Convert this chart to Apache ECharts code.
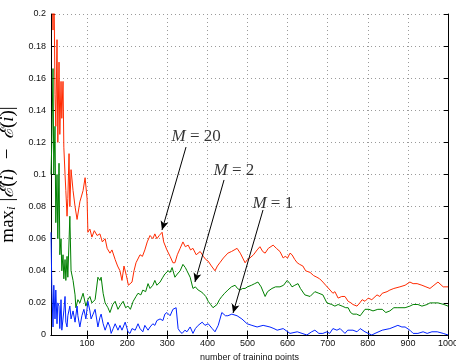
<!DOCTYPE html>
<html>
<head>
<meta charset="utf-8">
<script src="https://cdn.jsdelivr.net/npm/echarts@6/dist/echarts.min.js"></script>
<style>
html, body { margin: 0; padding: 0; background: #fff; }
#chart { width: 456px; height: 360px; }
</style>
</head>
<body>
<div id="chart"></div>
<script>
// tick values for the x axis (axis itself starts at 10)
var xTicks = [100, 200, 300, 400, 500, 600, 700, 800, 900, 1000];

// M = 20 (red)
var m20 = [
  [10, 0.21], [12, 0.24], [15, 0.19], [17, 0.23], [20, 0.15], [22, 0.13], [25, 0.184], [27, 0.12],
  [30, 0.17], [32, 0.125], [35, 0.158], [37, 0.135], [40, 0.158], [42, 0.117], [45, 0.10], [47, 0.09],
  [50, 0.074], [52, 0.085], [55, 0.113], [57, 0.08], [60, 0.103], [65, 0.09], [70, 0.08], [75, 0.072],
  [82, 0.083], [90, 0.09], [95, 0.098], [100, 0.085], [102, 0.064], [107, 0.066], [112, 0.061], [118, 0.065],
  [125, 0.062], [132, 0.063], [138, 0.058], [145, 0.060], [150, 0.054], [157, 0.051], [162, 0.053], [170, 0.047],
  [176, 0.043], [182, 0.040], [187, 0.034], [192, 0.043], [198, 0.037], [203, 0.031], [207, 0.030], [212, 0.033],
  [217, 0.040], [222, 0.045], [226, 0.046], [232, 0.050], [238, 0.049], [244, 0.053], [250, 0.058], [257, 0.062],
  [264, 0.060], [269, 0.063], [274, 0.060], [280, 0.062], [287, 0.064], [291, 0.058], [294, 0.057], [299, 0.053],
  [307, 0.049], [314, 0.045], [319, 0.045], [325, 0.050], [332, 0.054], [339, 0.058], [345, 0.055], [352, 0.056],
  [358, 0.053], [364, 0.054], [372, 0.050], [382, 0.052], [390, 0.049], [396, 0.047], [402, 0.046], [410, 0.043],
  [419, 0.040], [425, 0.043], [431, 0.045], [440, 0.048], [451, 0.051], [460, 0.052], [474, 0.054], [482, 0.051],
  [494, 0.045], [500, 0.047], [506, 0.048], [515, 0.050], [524, 0.053], [531, 0.055], [538, 0.052], [544, 0.051],
  [552, 0.054], [564, 0.056], [572, 0.054], [581, 0.052], [589, 0.048], [594, 0.049], [600, 0.048], [606, 0.051],
  [611, 0.050], [618, 0.047], [624, 0.045], [630, 0.044], [638, 0.043], [645, 0.040], [656, 0.039], [665, 0.037],
  [673, 0.036], [680, 0.035], [688, 0.033], [695, 0.031], [706, 0.028], [713, 0.026], [718, 0.027], [726, 0.023],
  [735, 0.024], [743, 0.024], [751, 0.021], [758, 0.020], [763, 0.019], [773, 0.018], [780, 0.020], [786, 0.022],
  [793, 0.021], [801, 0.023], [810, 0.022], [823, 0.025], [830, 0.024], [836, 0.026], [848, 0.027], [855, 0.028],
  [865, 0.029], [880, 0.030], [893, 0.031], [905, 0.033], [913, 0.032], [923, 0.032], [935, 0.031], [945, 0.030],
  [955, 0.029], [965, 0.031], [975, 0.033], [988, 0.030], [1000, 0.030]
];

// M = 2 (green)
var m2 = [
  [10, 0.10], [12, 0.12], [15, 0.166], [17, 0.10], [20, 0.13], [22, 0.07], [25, 0.10], [27, 0.06],
  [30, 0.107], [32, 0.05], [35, 0.06], [37, 0.04], [40, 0.05], [42, 0.035], [45, 0.047], [47, 0.034],
  [50, 0.049], [52, 0.036], [57, 0.074], [60, 0.04], [65, 0.034], [70, 0.025], [72, 0.017], [77, 0.022],
  [82, 0.020], [90, 0.026], [97, 0.018], [102, 0.022], [107, 0.024], [112, 0.020], [120, 0.022], [127, 0.036],
  [132, 0.034], [135, 0.036], [140, 0.026], [145, 0.020], [152, 0.017], [157, 0.014], [164, 0.019], [170, 0.021],
  [177, 0.016], [184, 0.019], [190, 0.021], [196, 0.017], [202, 0.018], [208, 0.016], [215, 0.021], [222, 0.024],
  [227, 0.026], [234, 0.025], [239, 0.028], [246, 0.027], [252, 0.032], [257, 0.029], [264, 0.031], [269, 0.034],
  [274, 0.031], [282, 0.033], [289, 0.036], [294, 0.038], [302, 0.040], [307, 0.039], [312, 0.042], [319, 0.036],
  [325, 0.038], [332, 0.040], [339, 0.044], [345, 0.042], [349, 0.040], [357, 0.036], [364, 0.029], [370, 0.030],
  [377, 0.028], [384, 0.027], [389, 0.026], [396, 0.024], [402, 0.021], [408, 0.019], [414, 0.017], [419, 0.018],
  [424, 0.019], [430, 0.022], [436, 0.024], [443, 0.026], [451, 0.028], [460, 0.030], [469, 0.031], [475, 0.029],
  [481, 0.028], [488, 0.029], [494, 0.029], [500, 0.030], [510, 0.031], [518, 0.032], [526, 0.033], [534, 0.030],
  [544, 0.024], [550, 0.027], [561, 0.029], [570, 0.030], [581, 0.030], [590, 0.031], [599, 0.034], [606, 0.032],
  [611, 0.030], [618, 0.031], [626, 0.032], [632, 0.029], [643, 0.025], [656, 0.024], [668, 0.027], [678, 0.026],
  [688, 0.025], [698, 0.020], [710, 0.019], [718, 0.018], [726, 0.019], [736, 0.018], [745, 0.017], [751, 0.017],
  [757, 0.014], [763, 0.013], [772, 0.013], [781, 0.012], [793, 0.016], [803, 0.016], [813, 0.015], [825, 0.016],
  [836, 0.016], [845, 0.014], [855, 0.015], [865, 0.017], [875, 0.017], [893, 0.017], [905, 0.018], [913, 0.019],
  [925, 0.019], [935, 0.018], [948, 0.019], [955, 0.020], [965, 0.020], [975, 0.020], [990, 0.019], [1000, 0.018]
];

// M = 1 (blue)
var m1 = [
  [10, 0.064], [12, 0.03], [15, 0.005], [17, 0.031], [20, 0.010], [22, 0.028], [25, 0.007], [27, 0.02],
  [30, 0.018], [32, 0.004], [35, 0.022], [37, 0.003], [40, 0.003], [42, 0.015], [45, 0.024], [47, 0.008],
  [50, 0.005], [52, 0.012], [57, 0.018], [60, 0.010], [65, 0.015], [70, 0.008], [75, 0.018], [77, 0.012],
  [82, 0.005], [87, 0.012], [92, 0.016], [97, 0.010], [102, 0.021], [107, 0.015], [110, 0.010], [115, 0.013],
  [120, 0.016], [127, 0.005], [132, 0.011], [135, 0.013], [140, 0.007], [145, 0.003], [152, 0.008], [157, 0.005],
  [160, 0.001], [165, 0.004], [170, 0.007], [177, 0.003], [182, 0.006], [187, 0.003], [195, 0.008], [202, 0.002],
  [207, 0.001], [212, 0.004], [220, 0.003], [227, 0.007], [232, 0.004], [239, 0.002], [244, 0.006], [252, 0.003],
  [257, 0.005], [264, 0.007], [269, 0.006], [274, 0.009], [282, 0.010], [289, 0.009], [294, 0.013], [299, 0.014],
  [307, 0.012], [314, 0.016], [322, 0.017], [327, 0.004], [332, 0.002], [337, 0.001], [344, 0.003], [349, 0.002],
  [357, 0.005], [364, 0.001], [370, 0.004], [377, 0.006], [387, 0.008], [394, 0.006], [402, 0.007], [412, 0.004],
  [419, 0.002], [427, 0.006], [436, 0.014], [445, 0.012], [451, 0.012], [461, 0.013], [474, 0.012], [486, 0.010],
  [499, 0.007], [511, 0.006], [524, 0.005], [539, 0.006], [556, 0.005], [566, 0.004], [574, 0.003], [589, 0.004],
  [606, 0.001], [624, 0.002], [636, 0.001], [648, 0.000], [660, 0.002], [668, 0.003], [678, 0.001], [688, 0.001],
  [698, 0.002], [705, 0.001], [713, 0.004], [723, 0.003], [731, 0.004], [743, 0.001], [750, 0.003], [763, 0.003],
  [773, 0.002], [781, 0.004], [793, 0.002], [801, 0.001], [810, 0.000], [818, 0.001], [836, 0.003], [855, 0.004],
  [875, 0.006], [885, 0.005], [893, 0.005], [905, 0.003], [913, 0.001], [925, 0.001], [938, 0.002], [948, 0.001],
  [960, 0.002], [973, 0.002], [988, 0.001], [1000, 0.000]
];

// annotations (data coordinates)
var annoM = ['20', '2', '1'];
var annoText = [[372, 0.1234], [466, 0.1022], [563, 0.0822]];
var arrowFrom = [[346.7, 0.1171], [441.5, 0.0966], [538.7, 0.0779]];
var arrowTo = [[286.8, 0.0654], [369, 0.0330], [464, 0.0137]];

var sans = 'Liberation Sans, Arial, sans-serif';
var serif = 'Liberation Serif, DejaVu Serif, serif';

var chart = echarts.init(document.getElementById('chart'));

var gridLine = { show: true, lineStyle: { color: '#9a9a9a', width: 1, type: [1, 3] } };

var option = {
  animation: false,
  backgroundColor: '#fff',
  grid: { left: 51, right: 8, top: 14, bottom: 25, show: false, outerBoundsMode: 'none', containLabel: false },
  xAxis: [{
    type: 'value',
    min: 10,
    max: 1000,
    name: 'number of training points',
    nameLocation: 'middle',
    nameGap: 11,
    nameTextStyle: { fontFamily: sans, fontSize: 9, color: '#111' },
    axisLine: { show: true, onZero: false, lineStyle: { color: '#000', width: 1 } },
    axisTick: { show: true, inside: true, length: 4, customValues: xTicks, lineStyle: { color: '#000' } },
    axisLabel: {
      customValues: xTicks, fontFamily: sans, fontSize: 9, color: '#111', margin: 4,
      formatter: function (v) { return String(v); }
    },
    splitLine: gridLine
  }, {
    type: 'value',
    position: 'top',
    min: 10,
    max: 1000,
    axisLine: { show: true, lineStyle: { color: '#000', width: 1 } },
    axisTick: { show: true, inside: true, length: 4, customValues: xTicks, lineStyle: { color: '#000' } },
    axisLabel: { show: false },
    splitLine: { show: false }
  }],
  yAxis: [{
    type: 'value',
    min: 0,
    max: 0.2,
    interval: 0.02,
    name: '{r|max}{sub|i}{r| |}{it|ℰ̂}{r|(}{it|i}{r|)  −  }{it|ℰ}{r|(}{it|i}{r|)|}',
    nameLocation: 'middle',
    nameGap: 12,
    nameRotate: 90,
    nameTextStyle: {
      fontFamily: serif, fontSize: 19, color: '#000',
      rich: {
        r: { fontFamily: serif, fontSize: 19, color: '#000' },
        it: { fontFamily: serif, fontSize: 19, fontStyle: 'italic', color: '#000' },
        sub: { fontFamily: serif, fontSize: 13, fontStyle: 'italic', color: '#000', verticalAlign: 'bottom' }
      }
    },
    axisLine: { show: true, lineStyle: { color: '#000', width: 1 } },
    axisTick: { show: true, inside: true, length: 4, lineStyle: { color: '#000' } },
    axisLabel: { fontFamily: sans, fontSize: 9, color: '#111', margin: 5 },
    splitLine: gridLine
  }, {
    type: 'value',
    position: 'right',
    min: 0,
    max: 0.2,
    interval: 0.02,
    axisLine: { show: true, lineStyle: { color: '#000', width: 1 } },
    axisTick: { show: true, inside: true, length: 4, lineStyle: { color: '#000' } },
    axisLabel: { show: false },
    splitLine: { show: false }
  }],
  series: [{
    name: 'M = 20', type: 'line', data: m20, showSymbol: false, clip: true,
    lineStyle: { color: '#ff2a00', width: 1 }, z: 3
  }, {
    name: 'M = 2', type: 'line', data: m2, showSymbol: false, clip: true,
    lineStyle: { color: '#008000', width: 1 }, z: 3
  }, {
    name: 'M = 1', type: 'line', data: m1, showSymbol: false, clip: true,
    lineStyle: { color: '#0022ff', width: 1 }, z: 3
  }, {
    type: 'scatter',
    symbolSize: 0,
    silent: true,
    z: 5,
    data: annoText.map(function (p, i) { return { value: p, m: annoM[i] }; }),
    label: {
      show: true,
      position: 'inside',
      formatter: function (p) { return '{it|M}{r| = ' + annoM[p.dataIndex] + '}'; },
      rich: {
        it: { fontFamily: serif, fontSize: 17, fontStyle: 'italic', color: '#000' },
        r: { fontFamily: serif, fontSize: 17, color: '#000' }
      }
    },
    markLine: {
      silent: true,
      symbol: ['none', 'arrow'],
      symbolSize: [6, 9],
      label: { show: false },
      lineStyle: { color: '#000', width: 1, type: 'solid' },
      data: arrowFrom.map(function (a, i) {
        return [{ coord: a }, { coord: arrowTo[i] }];
      })
    }
  }]
};

option && chart.setOption(option);
window.addEventListener('resize', chart.resize);
</script>
</body>
</html>
